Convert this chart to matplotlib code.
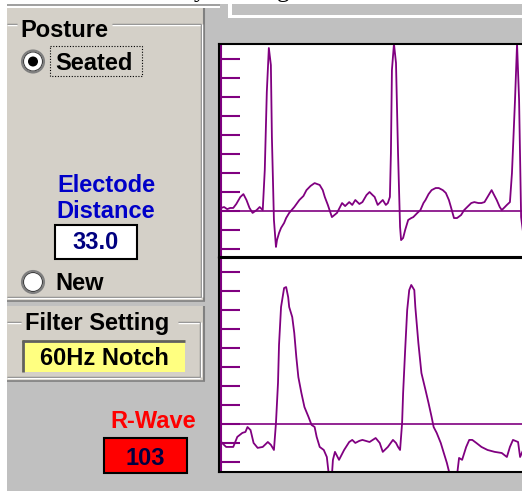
import matplotlib
matplotlib.use("Agg")
import matplotlib.pyplot as plt
from matplotlib.patches import Rectangle, Circle

# ---- data (time in samples, amplitude in grid units) ----
top_t = [0, 2, 5, 8, 11, 14, 17, 21, 24, 27, 30, 33, 37, 40, 43,
         45, 47, 49, 51, 52, 54, 56, 57, 59, 61, 64, 66, 69, 74, 79,
         83, 86, 90, 94, 99, 102, 104, 107, 111, 116, 121, 124, 128, 131,
         134, 138, 141, 145, 148, 151, 153, 156, 161, 164, 166, 168,
         169, 170, 172, 174, 176, 178, 179, 181, 183, 186, 189, 191, 195,
         198, 201, 203, 206, 209, 213, 216, 220, 223, 226, 228, 231, 234,
         238, 241, 244, 248, 251, 255, 258, 261, 264, 268, 270, 273, 276,
         278, 281, 283, 286, 288, 291, 293, 295, 297, 299, 301, 303]
top_v = [0.16, 0.16, 0.21, 0.10, 0.16, 0.16, 0.37, 0.74, 0.89, 0.58, 0.16, -0.10, 0.05, 0.21, 0.05,
         2.16, 6.26, 8.58, 7.68, 3.89, -0.47, -1.89, -1.53, -1.16, -0.89, -0.63, -0.37, -0.10, 0.21, 0.58,
         0.79, 1.10, 1.32, 1.47, 1.37, 1.10, 0.74, 0.32, -0.32, -0.10, 0.42, 0.26, 0.47, 0.32,
         0.58, 0.37, 0.47, 0.84, 1.00, 0.84, 0.74, 0.32, 0.58, 0.32, 0.42, 0.74,
         3.05, 7.42, 8.80, 7.79, 3.05, -0.84, -1.53, -1.42, -1.00, -0.47, -0.37, -0.32, -0.10,
         0.05, 0.42, 0.58, 0.89, 1.10, 1.21, 1.21, 1.10, 0.95, 0.58, 0.21, -0.37, -0.37,
         -0.21, 0.05, 0.21, 0.42, 0.47, 0.42, 0.42, 0.47, 0.74, 1.10, 0.89, 0.58, 0.21,
         0.05, 0.21, 0.32, 0.47, 2.00, 5.84, 8.80, 5.84, -0.32, -1.16, -1.00, -1.10]

bot_t = [0, 3, 7, 11, 14, 18, 23, 26, 28, 31, 34, 38, 43, 48, 51, 54,
         56, 58, 59, 61, 64, 66, 68, 69, 72, 74, 76, 78, 81, 84, 88, 91,
         94, 96, 99, 103, 106, 108, 111, 112, 114, 118, 123, 128, 131, 134,
         138, 141, 148, 154, 158, 161, 166, 171, 174, 176, 178,
         180, 181, 183, 185, 187, 189, 192, 193, 196, 199, 203, 206, 209,
         211, 214, 218, 221, 224, 227, 234, 236, 239, 243, 246, 249, 253,
         258, 264, 271, 278, 283, 286, 289, 294, 296, 299, 302, 303]
bot_v = [-0.8, -1.00, -1.21, -1.21, -1.21, -0.68, -0.47, -0.42, -0.16, -0.32, -1.00, -1.26, -1.21, -0.95, -1.10, -1.37,
         0.05, 2.16, 4.16, 6.16, 7.16, 7.21, 6.68, 6.16, 5.63, 4.79, 3.53, 2.47, 1.63, 0.89, 0.37, -0.05,
         -0.16, -0.68, -1.21, -1.37, -1.74, -2.70, -2.70, -1.89, -1.47, -1.89, -1.37, -0.95, -0.84, -1.00,
         -0.89, -0.84, -0.95, -0.74, -1.00, -1.47, -1.21, -0.84, -1.00, -1.21, -1.37,
         0.05, 1.63, 3.89, 6.00, 7.05, 7.32, 7.05, 6.16, 4.26, 2.68, 1.79, 1.10, 0.37,
         -0.16, -0.47, -1.00, -1.53, -2.05, -2.70, -2.70, -1.79, -1.89, -1.21, -0.84, -0.84, -1.00,
         -1.21, -1.37, -1.47, -1.53, -1.74, -1.21, -0.84, -0.95, -1.74, -1.37, 0.05, 2.30]

grid_ticks = list(range(-2, 9))
posture_options = ["Seated", "New"]
electrode_distance = "33.0"
filter_setting = "60Hz Notch"
r_wave = "103"

W, H = 522, 491
PANEL = "#d4d0c8"
GREY = "#c0c0c0"
PURPLE = "#800080"
FONT = dict(family="Liberation Sans", fontweight="bold", fontsize=17)

fig = plt.figure(figsize=(W / 100, H / 100), dpi=100, facecolor=GREY)
bg = fig.add_axes([0, 0, 1, 1])
bg.set_xlim(0, W)
bg.set_ylim(H, 0)
bg.axis("off")


def box(x0, y0, x1, y1, fc, ec="none", lw=0, z=1, **kw):
    bg.add_patch(Rectangle((x0, y0), x1 - x0, y1 - y0, facecolor=fc,
                           edgecolor=ec, linewidth=lw, zorder=z, **kw))


def hline(y, x0, x1, c, lw=1.0):
    bg.plot([x0, x1], [y, y], color=c, lw=lw, solid_capstyle="butt", zorder=3)


def vline(x, y0, y1, c, lw=1.0):
    bg.plot([x, x], [y0, y1], color=c, lw=lw, solid_capstyle="butt", zorder=3)


# window edges / top strip (the caption above is cut off in the original too)
box(0, 0, 7, H, "white")
box(0, 0, W, 4, "white")
box(7, 4, 220, 6, "#a0a0a0")
box(7, 6, 220, 8, "white")
box(228, 4, W, 18, "white")
box(232, 4, W, 15, GREY, z=2)
bg.text(194, -3, "y", family="Liberation Serif", fontsize=18, va="baseline", zorder=4)
bg.text(277, -3, "g", family="Liberation Serif", fontsize=18, va="baseline", zorder=4)

# posture panel
box(7, 8, 205, 301, PANEL)
vline(204, 8, 301, "#808080", 1.5)
hline(300.5, 7, 205, "#808080", 1.2)
hline(24, 7, 17, "#808080")
hline(25, 7, 17, "white")
hline(24, 112, 201, "#808080")
hline(25, 112, 201, "white")
vline(200.5, 24, 297, "#808080")
vline(201.5, 24, 297, "white")
hline(296.5, 7, 201, "#808080")
hline(297.5, 7, 201, "white")
bg.text(20, 37, "Posture", color="black", va="baseline", zorder=4, **FONT)

radio_y = [61.5, 282]
for i, (label, cy) in enumerate(zip(posture_options, radio_y)):
    bg.add_patch(Circle((33, cy), 11, facecolor="white", edgecolor="#808080", lw=1.5, zorder=3))
    bg.add_patch(Circle((33, cy), 9.5, facecolor="white", edgecolor="#404040", lw=0.8, zorder=3))
    if i == 0:
        bg.add_patch(Circle((33, cy), 5, facecolor="black", zorder=4))
    bg.text(55, cy + 8.5, label, color="black", va="baseline", zorder=4, **FONT)
box(50, 46, 142, 76, "none", ec="black", lw=0.8, z=4, linestyle=(0, (1, 1.5)))

bg.text(106, 192, "Electode", color="#0000c8", ha="center", va="baseline", zorder=4, **FONT)
bg.text(106, 218, "Distance", color="#0000c8", ha="center", va="baseline", zorder=4, **FONT)
box(55, 225, 137, 259, "white", ec="black", lw=1.5, z=3)
bg.text(96, 249, electrode_distance, color="#000080", ha="center", va="baseline", zorder=4, **FONT)

# filter panel
box(7, 302, 205, 306, GREY)
box(7, 306, 205, 381, PANEL)
vline(204, 306, 381, "#808080", 1.5)
hline(380.5, 7, 205, "#808080", 1.2)
hline(322, 7, 21, "#808080")
hline(323, 7, 21, "white")
hline(322, 178, 200, "#808080")
hline(323, 178, 200, "white")
vline(199.5, 322, 377, "#808080")
vline(200.5, 322, 377, "white")
hline(376.5, 7, 200, "#808080")
hline(377.5, 7, 200, "white")
bg.text(25, 330, "Filter Setting", color="black", va="baseline", zorder=4, **FONT)
box(22, 340, 185, 372, "#ffff80", z=3)
hline(341, 22, 185, "#606060", 2)
vline(23, 340, 372, "#606060", 2)
bg.text(104, 365, filter_setting, color="black", ha="center", va="baseline", zorder=4, **FONT)

# R-wave readout
bg.text(153, 428, "R-Wave", color="#ff0000", ha="center", va="baseline", zorder=4, **FONT)
box(104, 438, 187, 473, "#ff0000", ec="black", lw=1.5, z=3)
bg.text(145, 465, r_wave, color="#000040", ha="center", va="baseline", zorder=4, **FONT)


# ---- the two traces ----
def trace_axes(y_top, y_bot, t, v, ylim):
    ax = fig.add_axes([219 / W, 1 - y_bot / H, (W - 219) / W + 0.01, (y_bot - y_top) / H])
    ax.set_facecolor("white")
    ax.plot(t, v, color=PURPLE, lw=1.3)
    ax.axhline(0, color=PURPLE, lw=1.2)
    ax.axvline(1.5, color=PURPLE, lw=1.5)
    ax.set_xlim(0, 303)
    ax.set_ylim(*ylim)
    ax.set_xticks([])
    ax.set_yticks(grid_ticks)
    ax.set_yticklabels([])
    ax.tick_params(axis="y", direction="in", length=15, width=1.5, color=PURPLE)
    ax.spines["right"].set_visible(False)
    for s in ("left", "top", "bottom"):
        ax.spines[s].set_color("black")
        ax.spines[s].set_linewidth(1.5)
    return ax


trace_axes(44, 257, top_t, top_v, (-2.42, 8.79))
trace_axes(258, 472, bot_t, bot_v, (-2.53, 8.74))

fig.savefig("out.png", dpi=100, facecolor=GREY)
